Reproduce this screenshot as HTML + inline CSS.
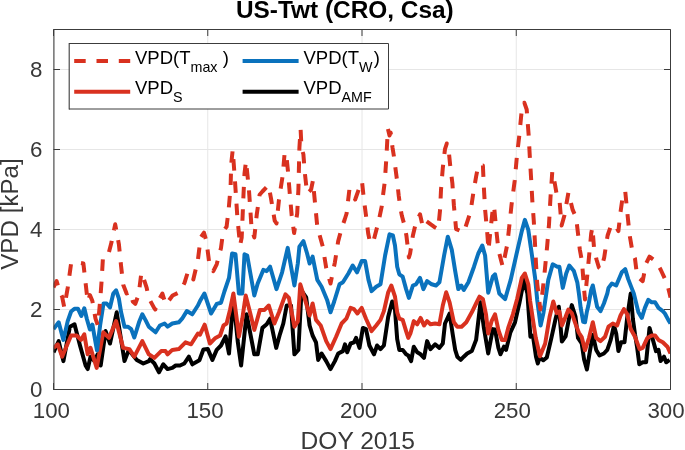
<!DOCTYPE html>
<html><head><meta charset="utf-8"><style>
html,body{margin:0;padding:0;background:#fff;width:685px;height:450px;overflow:hidden}
svg{display:block;will-change:transform}
text{font-family:"Liberation Sans",sans-serif;fill:#383838}
.t{font-size:22.3px}
.ti{font-size:24.4px;font-weight:bold;fill:#000}
.al{font-size:24.2px}
.l{font-size:18.5px;fill:#000}
.s{font-size:14.3px}
</style></head><body>
<svg width="685" height="450" viewBox="0 0 685 450">
<rect width="685" height="450" fill="#fff"/>
<path d="M207.75,29.5 V389.5 M362.00,29.5 V389.5 M516.25,29.5 V389.5 M53.5,309.50 H670.5 M53.5,229.50 H670.5 M53.5,149.50 H670.5 M53.5,69.50 H670.5" stroke="#e6e6e6" stroke-width="1" fill="none"/>
<defs><clipPath id="c"><rect x="53.5" y="29.5" width="617" height="360"/></clipPath></defs>
<g fill="none" stroke-linejoin="round" stroke-width="4" clip-path="url(#c)">
<path d="M53.5,352.3 L58.7,341.1 L63.4,361.1 L69.9,326.7 L74.5,324.3 L80.0,345.5 L85.6,365.5 L87.7,369.1 L90.5,356.7 L94.5,361.1 L97.6,354.3 L100.7,365.5 L105.6,331.1 L110.0,343.5 L116.7,312.3 L124.5,361.1 L128.8,349.9 L136.8,359.9 L143.3,363.5 L148.8,361.1 L150.1,359.1 L154.4,363.5 L159.0,372.3 L163.3,364.3 L167.6,369.1 L172.3,367.9 L175.7,365.5 L180.0,365.5 L184.3,363.5 L188.9,356.7 L192.3,364.3 L199.4,360.3 L203.4,349.5 L207.8,349.1 L212.4,359.9 L216.7,349.9 L221.0,345.5 L225.6,336.3 L229.0,353.5 L233.4,298.3 L237.7,341.1 L241.1,365.5 L246.6,314.3 L254.3,354.3 L257.7,354.3 L262.4,327.9 L266.7,324.3 L270.1,318.7 L276.2,347.9 L279.9,334.3 L283.3,323.5 L286.7,305.5 L291.0,305.5 L294.4,354.3 L298.4,349.9 L301.5,290.7 L306.2,297.5 L309.6,325.5 L312.6,335.5 L316.0,342.3 L318.2,359.9 L321.6,353.5 L326.2,361.1 L330.5,369.1 L334.9,361.1 L338.2,353.5 L342.9,351.1 L345.0,344.3 L347.2,352.3 L350.6,343.5 L354.0,342.3 L356.1,337.9 L359.5,347.9 L362.9,327.9 L366.0,329.1 L369.4,345.5 L374.0,354.3 L377.1,345.5 L380.5,349.1 L383.9,345.5 L388.2,316.7 L392.2,301.5 L395.0,309.9 L397.2,339.1 L399.3,349.9 L402.7,349.9 L406.1,354.3 L408.3,355.5 L411.1,361.1 L413.8,346.7 L417.2,352.3 L420.6,354.3 L424.0,357.9 L427.1,341.1 L430.5,349.1 L435.1,344.3 L439.4,347.9 L442.8,343.5 L445.0,323.5 L449.6,313.5 L452.7,334.3 L455.2,349.9 L457.3,356.7 L460.7,359.9 L463.8,356.7 L467.2,353.5 L471.8,351.1 L476.1,339.9 L480.5,302.3 L483.9,327.9 L488.2,353.5 L492.8,329.1 L495.0,329.5 L498.4,347.9 L500.5,354.3 L503.9,346.7 L506.1,349.9 L510.4,332.3 L515.0,322.3 L519.3,303.5 L524.0,279.9 L527.4,293.5 L530.4,336.7 L532.9,335.5 L536.0,356.7 L537.8,363.5 L539.7,357.5 L543.4,360.3 L546.8,357.5 L551.4,337.9 L555.7,318.3 L558.8,306.7 L561.9,341.5 L565.6,336.3 L569.0,318.3 L571.8,305.1 L575.5,316.7 L578.0,337.9 L581.7,343.5 L584.1,359.5 L586.9,369.5 L589.4,354.3 L592.8,334.7 L596.2,349.9 L599.5,355.5 L603.9,353.5 L607.3,349.9 L610.7,339.9 L614.0,325.5 L616.2,333.5 L618.4,351.1 L621.1,342.3 L624.5,342.3 L627.3,316.7 L630.7,293.5 L632.9,319.1 L635.0,334.3 L637.2,347.9 L639.3,364.3 L642.7,362.3 L646.1,362.3 L649.5,327.9 L652.9,339.9 L656.0,351.1 L658.5,349.9 L660.6,361.1 L664.0,356.7 L666.2,362.3 L669.6,359.9" stroke="#000"/>
<path d="M53.5,347.9 L57.8,344.3 L62.1,356.7 L71.1,335.5 L76.6,335.5 L81.0,339.9 L84.3,334.3 L87.7,354.3 L90.5,347.9 L96.7,367.9 L103.2,332.3 L109.0,337.9 L116.1,321.1 L123.2,347.9 L129.4,349.1 L134.3,356.7 L142.3,341.1 L148.8,354.3 L154.4,357.9 L161.2,351.1 L165.5,351.1 L167.6,354.3 L172.3,349.9 L178.8,349.1 L185.5,342.3 L191.1,344.3 L197.9,333.5 L200.0,334.7 L204.7,324.7 L209.9,343.5 L215.5,337.9 L220.1,335.5 L223.5,325.5 L226.6,323.5 L230.0,309.9 L233.4,293.5 L236.7,318.7 L238.9,336.7 L242.3,318.7 L245.7,295.5 L250.0,312.3 L254.3,329.9 L259.9,309.9 L264.5,309.9 L268.8,305.5 L274.4,323.5 L279.0,312.3 L285.5,294.3 L288.9,297.9 L294.4,326.7 L297.8,321.5 L300.3,284.3 L304.9,299.1 L309.6,315.5 L312.6,303.5 L316.0,319.9 L320.7,325.5 L326.2,341.1 L330.5,349.1 L336.1,336.7 L341.6,323.5 L346.3,318.7 L350.6,307.9 L354.0,309.1 L357.4,313.5 L361.7,307.9 L366.0,318.7 L371.6,331.1 L376.2,325.5 L380.5,319.9 L383.9,311.1 L388.2,292.3 L391.3,285.5 L395.0,296.7 L397.2,312.3 L399.3,318.7 L402.7,319.9 L406.1,331.1 L408.3,337.9 L410.4,333.5 L413.8,321.1 L417.2,324.3 L420.6,317.9 L424.0,325.5 L427.1,321.1 L430.5,324.3 L435.1,323.5 L439.4,324.3 L442.8,305.5 L446.2,292.3 L449.6,302.3 L453.9,322.3 L457.3,326.7 L461.6,326.7 L466.3,322.3 L471.8,312.3 L476.1,303.5 L479.5,296.7 L482.9,299.1 L486.0,314.3 L488.2,333.5 L491.6,321.1 L495.0,314.3 L498.4,329.9 L501.8,339.9 L505.1,339.9 L508.2,327.9 L512.9,314.3 L517.2,298.7 L521.8,277.9 L524.9,273.5 L528.3,284.3 L530.1,300.7 L532.6,317.5 L535.7,337.5 L540.0,356.3 L545.2,343.5 L549.6,316.7 L553.3,301.5 L556.7,313.1 L559.4,311.5 L561.9,325.5 L565.6,316.7 L568.4,309.5 L571.8,313.1 L575.5,323.9 L578.9,332.7 L581.7,337.1 L585.0,350.3 L589.1,337.5 L592.8,322.3 L596.2,337.9 L600.5,341.1 L605.1,336.7 L608.5,326.7 L612.8,323.5 L617.1,325.5 L620.5,315.5 L623.9,309.1 L627.3,314.3 L630.7,329.1 L635.0,336.7 L639.6,349.1 L642.7,347.9 L647.4,337.9 L651.7,335.5 L655.1,335.5 L658.5,339.9 L662.8,342.3 L667.4,346.7 L670.5,353.5" stroke="#d9311f"/>
<path d="M53.5,329.1 L58.7,322.3 L63.4,339.9 L67.7,321.1 L71.1,311.5 L74.5,308.7 L77.9,308.7 L81.3,315.9 L84.3,308.3 L86.8,318.7 L89.9,329.5 L92.4,324.7 L94.5,336.7 L97.0,350.3 L100.1,325.5 L103.5,303.5 L106.6,303.5 L110.0,307.5 L113.3,293.5 L116.1,290.3 L118.9,298.7 L121.1,312.3 L124.5,326.7 L127.8,326.7 L131.2,329.1 L134.3,337.5 L139.0,322.3 L142.3,314.3 L145.4,319.9 L148.8,326.7 L155.6,332.3 L159.9,325.5 L164.6,323.5 L167.6,326.7 L172.3,323.5 L178.8,322.3 L182.1,318.7 L186.8,311.1 L192.3,314.3 L197.9,305.5 L200.0,301.1 L204.4,293.5 L211.1,313.5 L216.7,303.9 L221.0,302.7 L224.4,291.5 L229.0,277.9 L232.1,253.5 L235.5,254.3 L238.9,293.5 L242.3,293.5 L244.5,254.3 L247.2,255.5 L254.3,295.5 L257.7,283.5 L263.3,269.9 L266.7,271.1 L270.1,266.7 L276.5,289.1 L282.1,272.3 L287.7,247.9 L294.4,285.5 L297.8,263.5 L299.4,246.7 L303.4,241.1 L307.1,253.5 L309.6,263.5 L312.6,256.7 L317.3,279.9 L321.6,286.7 L327.1,299.9 L330.5,312.3 L334.2,301.5 L339.5,284.3 L342.9,282.3 L348.4,273.5 L352.7,265.5 L357.1,272.3 L361.7,261.1 L365.1,261.1 L368.5,279.9 L371.6,291.1 L376.2,286.7 L380.5,284.3 L385.1,255.5 L389.5,234.3 L392.9,235.5 L395.0,245.5 L397.2,266.7 L399.3,274.3 L402.7,276.7 L406.1,289.1 L408.9,297.9 L412.9,285.5 L416.0,284.3 L420.0,277.9 L423.4,289.1 L427.1,281.1 L431.7,284.3 L436.0,285.5 L439.4,282.3 L444.1,255.5 L447.8,236.7 L451.8,249.9 L455.2,271.1 L458.3,289.1 L461.3,285.5 L463.8,289.9 L468.4,282.3 L474.0,266.7 L478.3,253.5 L482.3,245.5 L485.1,255.5 L488.2,292.7 L492.8,276.7 L495.0,274.3 L499.3,293.5 L505.1,299.1 L510.7,279.9 L516.2,255.5 L521.8,231.1 L524.9,219.9 L528.3,229.9 L531.7,253.5 L535.1,277.9 L537.2,299.9 L540.6,325.5 L543.4,313.1 L546.8,289.9 L548.3,279.9 L552.7,264.3 L557.3,266.7 L559.4,266.7 L562.8,287.9 L566.2,273.5 L569.3,265.5 L573.9,271.1 L577.3,282.3 L578.9,293.5 L580.7,307.9 L583.2,321.9 L585.0,322.3 L586.9,311.5 L588.4,305.5 L591.2,289.9 L592.8,285.5 L597.1,306.7 L600.5,311.1 L603.9,303.5 L607.3,293.5 L608.5,287.9 L611.9,283.5 L616.2,285.5 L621.8,272.3 L625.2,269.1 L628.2,279.1 L631.6,287.9 L633.8,293.5 L638.4,312.3 L641.8,317.9 L644.9,307.9 L648.3,299.9 L651.7,302.3 L655.1,302.3 L658.5,307.9 L662.8,311.1 L664.9,313.5 L668.3,319.9 L670.5,323.5" stroke="#0a72bd"/>
<path d="M53.5,287.5 L54.4,285.5 L56.6,281.1 L60.0,292.3 L62.1,296.7 L64.3,307.5 L67.7,287.9 L70.2,269.9 L71.1,263.5 L78.8,262.7 L83.4,263.5 L85.6,283.1 L87.7,301.5 L89.9,295.1 L92.4,301.1 L95.5,318.7 L97.9,325.5 L100.1,301.1 L101.6,281.1 L102.9,258.7 L107.8,256.7 L111.5,242.3 L115.2,224.3 L118.9,244.3 L121.1,266.3 L123.2,284.7 L126.6,293.5 L130.6,291.9 L132.8,301.5 L135.3,303.9 L138.6,294.7 L141.4,272.7 L143.3,277.5 L146.7,287.9 L148.5,297.5 L154.1,307.9 L155.3,309.5 L156.5,303.9 L162.4,293.5 L165.8,304.7 L172.6,295.5 L180.0,291.9 L184.6,282.7 L188.0,271.5 L193.3,279.5 L197.9,259.9 L200.7,237.5 L204.0,232.7 L206.5,241.5 L209.0,261.1 L213.3,271.1 L216.7,264.3 L221.0,247.9 L223.2,231.1 L226.6,226.7 L228.7,209.1 L230.6,186.7 L231.2,164.3 L232.7,149.9 L234.6,175.5 L236.1,197.9 L237.4,217.9 L240.1,245.5 L241.7,237.5 L242.6,216.3 L243.5,194.7 L244.5,173.5 L246.0,161.1 L248.8,187.9 L250.3,209.1 L251.6,228.7 L254.3,237.5 L256.8,214.3 L259.6,194.7 L262.4,191.5 L268.5,185.1 L271.0,198.3 L274.7,220.7 L276.5,223.5 L279.0,199.5 L282.7,175.5 L284.6,153.5 L286.1,152.7 L288.0,171.5 L289.8,193.9 L291.7,215.5 L294.1,233.1 L297.2,213.5 L298.4,189.5 L299.4,147.9 L300.6,129.1 L301.5,147.9 L303.4,154.3 L304.9,173.5 L307.1,193.5 L309.6,191.1 L311.1,189.5 L312.9,180.7 L315.1,203.9 L317.3,226.7 L322.8,246.7 L326.2,267.9 L330.5,283.5 L334.9,262.3 L338.2,241.1 L341.9,227.5 L344.7,219.5 L346.6,213.5 L349.4,189.5 L351.2,191.5 L355.2,199.5 L360.1,185.5 L362.0,181.5 L363.9,199.5 L366.0,215.5 L368.2,233.5 L370.3,243.5 L374.0,239.1 L378.4,222.3 L381.7,206.7 L382.7,197.9 L384.8,181.5 L386.4,157.5 L387.9,128.7 L389.5,135.5 L390.7,132.7 L392.5,147.5 L394.1,157.5 L395.6,169.5 L397.2,181.5 L398.7,195.5 L400.3,207.5 L401.8,215.5 L404.0,223.5 L406.4,235.5 L408.9,257.5 L410.1,253.5 L412.9,235.5 L416.0,222.3 L420.0,214.3 L422.8,226.7 L426.2,221.1 L433.9,226.7 L438.2,229.1 L440.1,209.5 L441.0,189.9 L442.8,167.9 L445.0,149.1 L446.8,143.5 L449.0,153.5 L450.2,165.5 L452.4,183.5 L453.9,205.5 L456.1,229.1 L463.8,232.3 L470.6,211.5 L473.4,192.3 L476.1,176.7 L478.3,165.5 L482.9,165.5 L483.9,187.9 L485.1,209.5 L487.3,233.5 L488.5,249.9 L490.6,229.1 L492.8,208.7 L494.0,205.5 L496.2,229.1 L498.4,249.9 L502.7,266.7 L507.3,244.3 L509.5,224.3 L511.6,204.3 L514.7,180.7 L516.9,156.3 L519.3,135.5 L521.8,109.5 L524.3,102.7 L526.7,109.5 L528.6,134.3 L529.8,156.3 L531.1,178.3 L532.3,200.3 L533.8,221.1 L535.1,245.5 L536.0,263.5 L537.2,283.5 L540.3,309.5 L542.8,289.5 L544.9,269.5 L547.1,246.7 L549.0,224.3 L550.5,197.5 L552.3,171.5 L554.8,183.5 L557.3,197.9 L559.7,202.7 L561.6,225.5 L564.4,215.5 L568.4,192.7 L572.7,209.9 L576.1,217.5 L578.0,233.5 L579.8,249.5 L582.0,261.5 L582.9,273.5 L584.1,289.5 L585.0,299.5 L586.3,285.5 L587.8,269.5 L589.7,249.5 L591.2,233.5 L592.4,227.5 L594.0,247.5 L596.5,259.5 L598.9,267.5 L601.1,269.5 L604.2,257.5 L606.0,245.5 L607.6,235.5 L611.0,225.5 L615.0,224.7 L618.4,231.1 L620.5,212.3 L622.7,196.7 L625.2,191.1 L627.3,212.3 L629.5,234.3 L632.9,254.3 L635.0,258.7 L637.2,276.7 L642.7,281.1 L646.1,263.5 L649.5,256.7 L656.0,261.5 L660.6,269.5 L667.1,283.5 L669.6,293.5 L670.5,297.5" stroke="#d9311f" stroke-dasharray="11.5,10.8"/>
</g>
<path d="M53.50,389.5 V383 M53.50,29.5 V36 M207.75,389.5 V383 M207.75,29.5 V36 M362.00,389.5 V383 M362.00,29.5 V36 M516.25,389.5 V383 M516.25,29.5 V36 M670.50,389.5 V383 M670.50,29.5 V36 M53.5,389.50 H60 M670.5,389.50 H664 M53.5,309.50 H60 M670.5,309.50 H664 M53.5,229.50 H60 M670.5,229.50 H664 M53.5,149.50 H60 M670.5,149.50 H664 M53.5,69.50 H60 M670.5,69.50 H664" stroke="#3c3c3c" stroke-width="1" fill="none"/>
<path d="M53.5,29.5 H670.5 V389.5 H53.5" stroke="#3c3c3c" stroke-width="1" fill="none"/>
<path d="M53.9,29 V390" stroke="#3c3c3c" stroke-width="1.1" fill="none"/>
<text x="42.5" y="397.3" text-anchor="end" class="t">0</text>
<text x="42.5" y="317.3" text-anchor="end" class="t">2</text>
<text x="42.5" y="237.3" text-anchor="end" class="t">4</text>
<text x="42.5" y="157.3" text-anchor="end" class="t">6</text>
<text x="42.5" y="77.3" text-anchor="end" class="t">8</text>
<text x="51.4" y="417.8" text-anchor="middle" class="t">100</text>
<text x="205.0" y="417.8" text-anchor="middle" class="t">150</text>
<text x="358.6" y="417.8" text-anchor="middle" class="t">200</text>
<text x="512.25" y="417.8" text-anchor="middle" class="t">250</text>
<text x="666.0" y="417.8" text-anchor="middle" class="t">300</text>
<text x="357.7" y="448.5" text-anchor="middle" class="al" style="font-size:24.6px">DOY 2015</text>
<text transform="translate(17.5,214) rotate(-90)" text-anchor="middle" class="al">VPD [kPa]</text>
<text x="344.8" y="18" text-anchor="middle" class="ti">US-Twt (CRO, Csa)</text>
<rect x="69.5" y="43.5" width="319" height="65.5" fill="#fff" stroke="none"/>
<path d="M69,43.5 H388.5 V109 H69" stroke="#3c3c3c" stroke-width="1" fill="none"/>
<path d="M69.2,43 V109.5" stroke="#3c3c3c" stroke-width="1.1" fill="none"/>
<path d="M74.2,61 H130.2" stroke="#d9311f" stroke-width="4" stroke-dasharray="11.5,10.8"/>
<path d="M74.2,91.8 H130.2" stroke="#d9311f" stroke-width="4"/>
<path d="M242.6,61 H298.6" stroke="#0a72bd" stroke-width="4"/>
<path d="M242.6,91.7 H298.6" stroke="#000" stroke-width="4"/>
<text x="135" y="63.7" class="l">VPD(T<tspan class="s" dy="8">max</tspan><tspan dy="-8"> )</tspan></text>
<text x="135" y="93.7" class="l">VPD<tspan class="s" dy="8">S</tspan></text>
<text x="303.5" y="63.7" class="l">VPD(T<tspan class="s" dy="8">W</tspan><tspan dy="-8" dx="1.3">)</tspan></text>
<text x="303.5" y="93.7" class="l">VPD<tspan class="s" dy="8">AMF</tspan></text>
</svg>
</body></html>
